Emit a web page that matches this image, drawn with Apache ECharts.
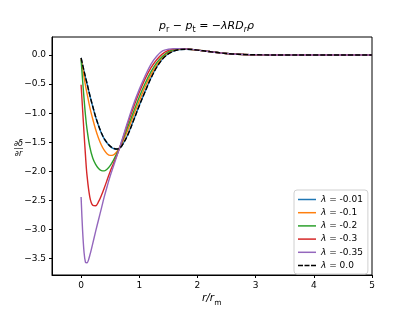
<!DOCTYPE html>
<html>
<head>
<meta charset="utf-8">
<script src="https://cdn.jsdelivr.net/npm/echarts@6/dist/echarts.min.js"></script>
<style>html,body{margin:0;padding:0;background:#fff;}#c{width:413px;height:310px;}</style>
</head>
<body>
<div id="c"></div>
<script>
// r / r_m sample grid
const r = [0, 0.025, 0.05, 0.075, 0.1, 0.15, 0.2, 0.25, 0.3, 0.35, 0.4, 0.45, 0.5, 0.55, 0.6, 0.65, 0.7, 0.8, 0.9, 1.0, 1.1, 1.2, 1.3, 1.4, 1.5, 1.6, 1.7, 1.8, 1.9, 2.0, 2.2, 2.4, 2.6, 2.8, 3.0, 3.5, 4.0, 4.5, 5.0];
const labels = ['-0.01', '-0.1', '-0.2', '-0.3', '-0.35', '0.0'];
const lam001 = [-0.05, -0.165, -0.275, -0.385, -0.485, -0.695, -0.885, -1.065, -1.215, -1.345, -1.445, -1.515, -1.57, -1.605, -1.62, -1.608, -1.56, -1.375, -1.125, -0.865, -0.625, -0.395, -0.205, -0.065, 0.022, 0.072, 0.096, 0.1, 0.095, 0.085, 0.06, 0.036, 0.019, 0.009, 0.004, 0.0005, 0, 0, 0];
const lam01 = [-0.06, -0.22, -0.37, -0.52, -0.65, -0.9, -1.1, -1.28, -1.43, -1.55, -1.64, -1.7, -1.725, -1.72, -1.68, -1.61, -1.52, -1.3, -1.04, -0.79, -0.55, -0.34, -0.17, -0.04, 0.04, 0.085, 0.1, 0.103, 0.096, 0.085, 0.06, 0.036, 0.019, 0.009, 0.004, 0.0005, 0, 0, 0];
const lam02 = [-0.08, -0.42, -0.74, -1.03, -1.26, -1.58, -1.77, -1.88, -1.95, -1.985, -1.99, -1.96, -1.9, -1.82, -1.72, -1.62, -1.5, -1.24, -0.98, -0.72, -0.49, -0.29, -0.13, -0.02, 0.06, 0.095, 0.107, 0.105, 0.097, 0.085, 0.06, 0.036, 0.019, 0.009, 0.004, 0.0005, 0, 0, 0];
const lam03 = [-0.51, -0.92, -1.33, -1.72, -2.05, -2.44, -2.58, -2.59, -2.52, -2.41, -2.28, -2.14, -2.0, -1.88, -1.76, -1.63, -1.49, -1.18, -0.9, -0.64, -0.41, -0.22, -0.08, 0.02, 0.08, 0.105, 0.11, 0.106, 0.097, 0.085, 0.06, 0.036, 0.019, 0.009, 0.004, 0.0005, 0, 0, 0];
const lam035 = [-2.44, -3.0, -3.38, -3.56, -3.57, -3.44, -3.24, -3.03, -2.83, -2.63, -2.43, -2.25, -2.08, -1.93, -1.78, -1.63, -1.47, -1.15, -0.85, -0.59, -0.36, -0.16, -0.02, 0.07, 0.1, 0.11, 0.11, 0.105, 0.097, 0.085, 0.06, 0.036, 0.019, 0.009, 0.004, 0.0005, 0, 0, 0];
const lam0 = [-0.05, -0.16, -0.27, -0.38, -0.48, -0.69, -0.88, -1.06, -1.21, -1.34, -1.44, -1.51, -1.565, -1.6, -1.615, -1.605, -1.56, -1.38, -1.13, -0.87, -0.63, -0.4, -0.21, -0.07, 0.02, 0.07, 0.095, 0.1, 0.095, 0.085, 0.06, 0.036, 0.019, 0.009, 0.004, 0.0005, 0, 0, 0];
const xTicks = [0, 1, 2, 3, 4, 5];
const yTicks = [-3.5, -3.0, -2.5, -2.0, -1.5, -1.0, -0.5, 0.0];

const seriesValues = [lam001, lam01, lam02, lam03, lam035, lam0];
const colors = ['#1f77b4', '#ff7f0e', '#2ca02c', '#d62728', '#9467bd', '#000000'];
const FONT = 'DejaVu Sans';
const SOLID_ICON = 'path://M0,0h18v1.5h-18z';
const DASH_ICON = 'path://M0,0h5v1.5h-5z M6.5,0h5v1.5h-5z M13,0h5v1.5h-5z';

const chart = echarts.init(document.getElementById('c'), null, {renderer: 'canvas'});
const series = seriesValues.map((vals, i) => ({
  name: labels[i],
  type: 'line',
  data: r.map((x, k) => [x, vals[k]]),
  showSymbol: false,
  symbol: 'none',
  smooth: 0.35,
  clip: true,
  z: 2 + i,
  color: colors[i],
  lineStyle: {color: colors[i], width: 1.4, type: i === 5 ? [5, 2] : 'solid'}
}));

const fmtMinus = v => (v < 0 ? '\u2212' : '') + Math.abs(v).toFixed(1);

chart.setOption({
  animation: false,
  backgroundColor: '#fff',
  grid: {left: 52, right: 41, top: 37, bottom: 35, show: true, borderColor: '#000', borderWidth: 1, backgroundColor: 'transparent'},
  xAxis: {
    type: 'value', min: -0.5, max: 5,
    axisLine: {show: true, onZero: false, lineStyle: {color: '#000', width: 1}},
    axisTick: {show: true, length: 3, lineStyle: {color: '#000'}, customValues: xTicks},
    axisLabel: {color: '#000', fontFamily: FONT, fontSize: 9, margin: 6, customValues: xTicks, formatter: v => String(v)},
    splitLine: {show: false}
  },
  yAxis: {
    type: 'value', min: -3.78, max: 0.31,
    axisLine: {show: true, onZero: false, lineStyle: {color: '#000', width: 1}},
    axisTick: {show: true, length: 3, lineStyle: {color: '#000'}, customValues: yTicks},
    axisLabel: {color: '#000', fontFamily: FONT, fontSize: 9, margin: 6, customValues: yTicks, formatter: fmtMinus},
    splitLine: {show: false}
  },
  legend: {
    orient: 'vertical', left: 294, top: 190,
    data: labels.map((l, i) => ({name: l, icon: i === 5 ? DASH_ICON : SOLID_ICON, itemStyle: {color: colors[i]}})),
    itemWidth: 18, itemHeight: 1.5, itemGap: 2.2,
    padding: [4, 5, 3, 4],
    borderColor: '#d0d0d0', borderWidth: 1, borderRadius: 3,
    backgroundColor: 'rgba(255,255,255,0.8)',
    textStyle: {
      fontFamily: FONT, fontSize: 9, color: '#000', lineHeight: 11,
      rich: {i: {fontFamily: FONT, fontStyle: 'italic', fontSize: 9, lineHeight: 11, color: '#000'}, n: {fontFamily: FONT, fontSize: 9, lineHeight: 11, color: '#000'}}
    },
    formatter: name => '{i|λ}{n| = ' + name + '}'
  },
  graphic: [
    {type: 'text', left: 'center', top: 21, style: {
      text: '{i|p}{s|r}{n| − }{i|p}{s|t}{n| = −}{i|λRD}{si|r}{i|ρ}',
      fill: '#000',
      rich: {
        i: {fontFamily: FONT, fontStyle: 'italic', fontSize: 11, lineHeight: 14, verticalAlign: 'top'},
        n: {fontFamily: FONT, fontSize: 11, lineHeight: 14, verticalAlign: 'top'},
        s: {fontFamily: FONT, fontSize: 8, lineHeight: 14, padding: [5, 0, 0, 0], verticalAlign: 'top'},
        si: {fontFamily: FONT, fontStyle: 'italic', fontSize: 8, lineHeight: 14, padding: [5, 0, 0, 0], verticalAlign: 'top'}
      }
    }},
    {type: 'text', left: 202, top: 293, style: {
      text: '{i|r/r}{s|m}',
      fill: '#000',
      rich: {
        i: {fontFamily: FONT, fontStyle: 'italic', fontSize: 10.5, lineHeight: 14, verticalAlign: 'top'},
        s: {fontFamily: FONT, fontSize: 7.5, lineHeight: 14, padding: [6, 0, 0, 0], verticalAlign: 'top'}
      }
    }},
    {type: 'text', x: 18.5, y: 147.5, style: {text: '∂δ', fontFamily: FONT, fontStyle: 'italic', fontSize: 8, fill: '#000', align: 'center', verticalAlign: 'bottom'}},
    {type: 'line', shape: {x1: 14, y1: 148.5, x2: 23, y2: 148.5}, style: {stroke: '#000', lineWidth: 0.6}},
    {type: 'text', x: 18.5, y: 149.5, style: {text: '∂r', fontFamily: FONT, fontStyle: 'italic', fontSize: 8, fill: '#000', align: 'center', verticalAlign: 'top'}}
  ],
  series: series
});
</script>
</body>
</html>
